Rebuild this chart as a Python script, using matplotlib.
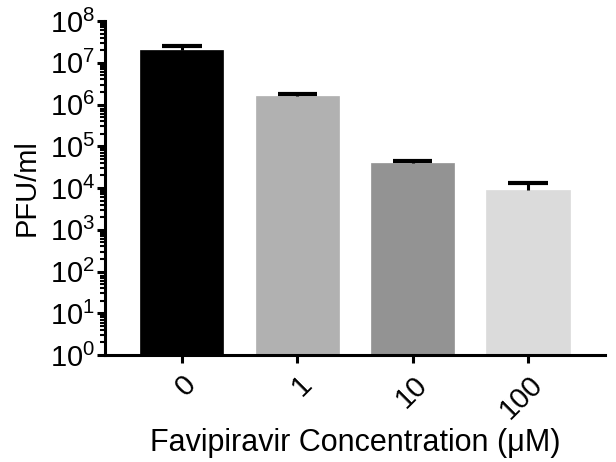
import matplotlib
matplotlib.use("Agg")
import matplotlib.pyplot as plt
import numpy as np
from matplotlib.ticker import LogLocator, NullFormatter

plt.rcParams['font.family'] = ['Liberation Sans', 'DejaVu Sans']
plt.rcParams['mathtext.default'] = 'regular'

# data
concentrations = ['0', '1', '10', '100']
pfu_mean = [2.0e7, 1.57e6, 3.97e4, 8.96e3]
pfu_err = [0.57e7, 0.25e6, 0.53e4, 4.4e3]
bar_colors = ['#000000', '#b1b1b1', '#939393', '#dbdbdb']

fig = plt.figure(figsize=(6.16, 4.62), dpi=100)
ax = fig.add_axes([0.1705, 0.2316, 0.8115, 0.7229])

x = np.arange(len(concentrations))
ax.bar(x, pfu_mean, width=0.72, color=bar_colors, edgecolor=bar_colors, linewidth=0.5,
       yerr=[np.zeros(len(pfu_err)), pfu_err], capsize=0, error_kw=dict(elinewidth=2.2, ecolor='black'),
       zorder=2)
# caps drawn by hand so only the top one shows
ax.errorbar(x, np.array(pfu_mean) + np.array(pfu_err), fmt='none', xerr=0.17,
            ecolor='black', elinewidth=3, capsize=0, zorder=3)

ax.set_yscale('log')
ax.set_ylim(1, 1e8)
ax.set_xlim(-0.667, 3.667)
ax.yaxis.set_major_locator(LogLocator(base=10, numticks=20))
ax.yaxis.set_minor_locator(LogLocator(base=10, subs=np.arange(2, 10), numticks=20))
ax.yaxis.set_minor_formatter(NullFormatter())

ax.set_xticks(x)
ax.set_xticklabels(concentrations, rotation=45, ha='right', va='top', rotation_mode='anchor',
                   fontsize=21)
ax.tick_params(axis='y', which='major', labelsize=21, length=6, width=2.2, pad=1)
ax.tick_params(axis='y', which='minor', length=3.5, width=1.5)
ax.tick_params(axis='x', which='major', length=6, width=2.2, pad=5)

for s in ['top', 'right']:
    ax.spines[s].set_visible(False)
for s in ['left', 'bottom']:
    ax.spines[s].set_linewidth(2.2)

ax.set_ylabel('PFU/ml', fontsize=21, labelpad=7)
ax.set_xlabel('Favipiravir Concentration (μM)', fontsize=22, labelpad=3)

fig.savefig('out.png', dpi=100)
